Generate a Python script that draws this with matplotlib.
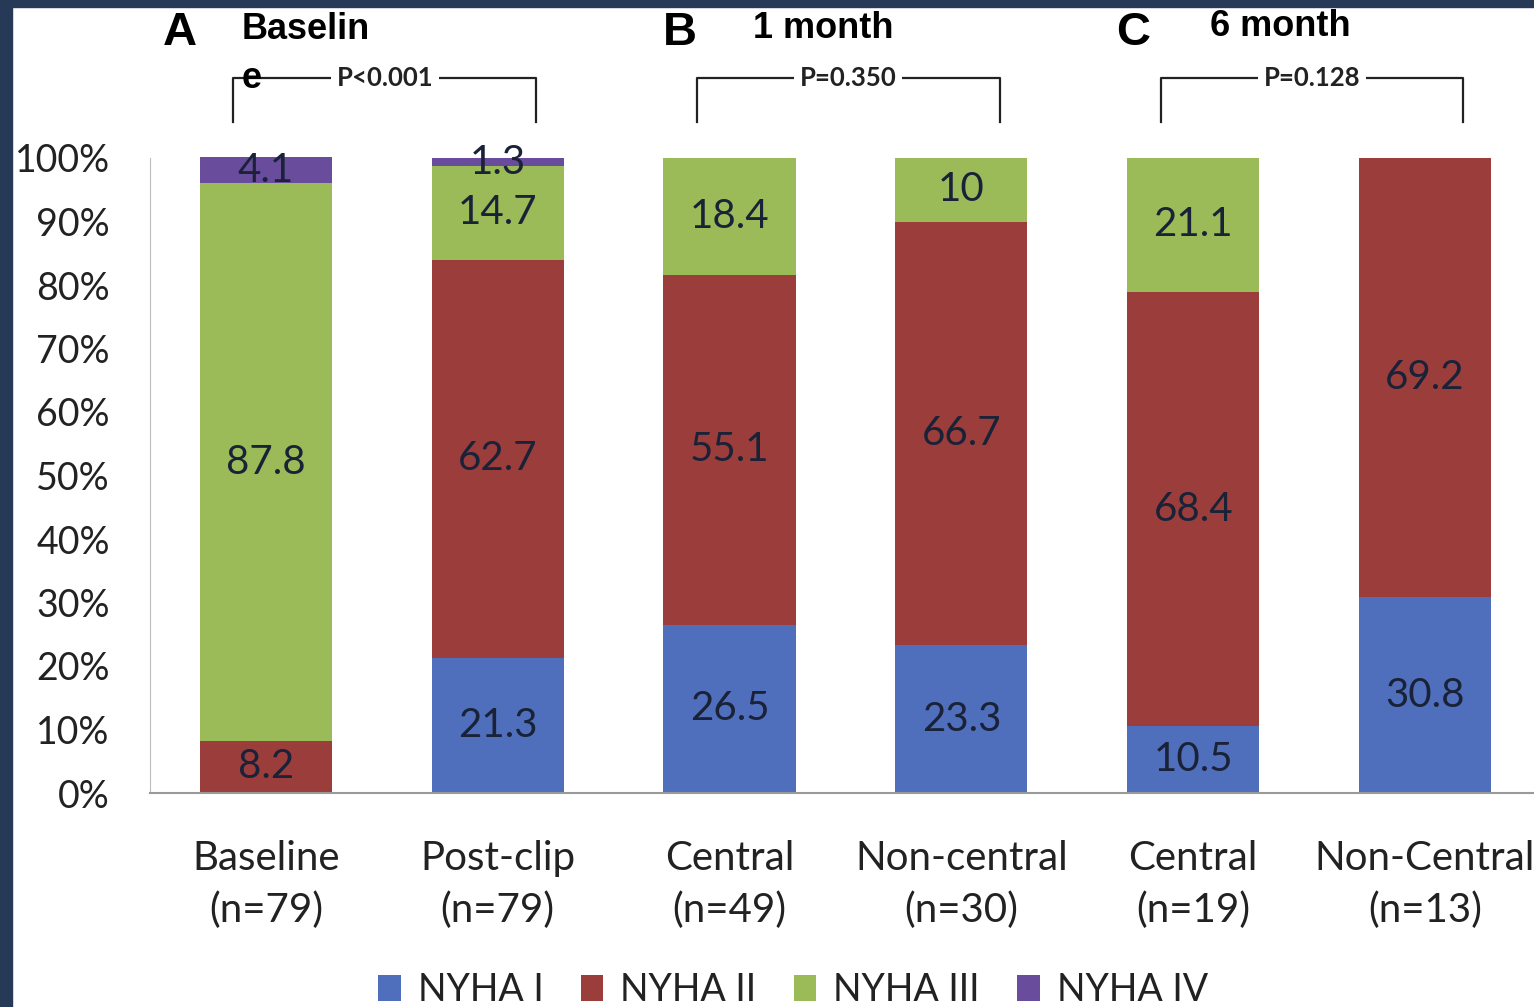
import matplotlib.pyplot as plt
import numpy as np
from matplotlib.patches import Rectangle

# NYHA class distribution (%) per group
groups = ["Baseline\n(n=79)", "Post-clip\n(n=79)", "Central\n(n=49)",
          "Non-central\n(n=30)", "Central\n(n=19)", "Non-Central\n(n=13)"]
nyha_1 = [0, 21.3, 26.5, 23.3, 10.5, 30.8]
nyha_2 = [8.2, 62.7, 55.1, 66.7, 68.4, 69.2]
nyha_3 = [87.8, 14.7, 18.4, 10, 21.1, 0]
nyha_4 = [4.1, 1.3, 0, 0, 0, 0]
classes = ["NYHA I", "NYHA II", "NYHA III", "NYHA IV"]
colors = ["#4f6fbd", "#9b3d3a", "#9bbb59", "#6a4c9c"]

panel_letters = ["A", "B", "C"]
panel_titles = ["Baselin\ne", "1 month", "6 month"]
p_values = ["P<0.001", "P=0.350", "P=0.128"]

W, H = 1534, 1007
plt.rcParams['font.family'] = ['Lato', 'DejaVu Sans']

fig = plt.figure(figsize=(W / 100, H / 100), dpi=100)
fig.patch.set_facecolor('white')

# dark frame along the top and left edges
fig.patches.append(Rectangle((0, 1 - 7 / H), 1, 7 / H, transform=fig.transFigure,
                             color='#263a57', zorder=0))
fig.patches.append(Rectangle((0, 0), 12 / W, 1, transform=fig.transFigure,
                             color='#263a57', zorder=0))

ax = fig.add_axes([150 / W, 1 - 793 / H, 1 - 150 / W, (793 - 158) / H])

x = np.arange(len(groups))
series = [nyha_1, nyha_2, nyha_3, nyha_4]
bottom = np.zeros(len(groups))
for vals, name, col in zip(series, classes, colors):
    vals = np.array(vals, dtype=float)
    ax.bar(x, vals, bottom=bottom, width=0.57, color=col, label=name,
           clip_on=False, zorder=2)
    for xi, b, v in zip(x, bottom, vals):
        if v > 0:
            ax.text(xi, b + v / 2, f"{v:g}", ha='center', va='center',
                    fontsize=29, color='#1a2238', zorder=3)
    bottom += vals

ax.set_xlim(-0.5, 5.47)
ax.set_ylim(0, 100)
ax.set_yticks(np.arange(0, 101, 10))
ax.set_yticklabels([f"{t}%" for t in range(0, 101, 10)], fontsize=27, color='#222222')
ax.set_xticks(x)
ax.set_xticklabels(groups, fontsize=29, color='#222222', linespacing=1.45)
ax.tick_params(length=0, pad=29, axis='y')
ax.tick_params(length=0, pad=34, axis='x')
for side in ['top', 'right']:
    ax.spines[side].set_visible(False)
ax.spines['left'].set_color('#bdbdbd')
ax.spines['bottom'].set_color('#9a9a9a')
ax.spines['bottom'].set_linewidth(1.5)

# significance brackets over each pair of bars
for k, p in enumerate(p_values):
    left = 2 * k - 0.14
    right = 2 * k + 1.165
    ax.plot([left, left, right, right], [105.7, 112.6, 112.6, 105.7],
            color='#222222', lw=1.6, clip_on=False, zorder=1)
    ax.text((left + right) / 2, 112.6, p, ha='center', va='center',
            fontsize=18.5, fontweight='bold', color='#222222',
            bbox=dict(facecolor='white', edgecolor='none', pad=4), zorder=2)

# panel letters and time-point headers
letter_px = [(180, 33), (680, 33), (1133, 33)]
title_px = [(242, 54), (753, 28), (1210, 26)]
for letter, title, (lx, ly), (tx, ty) in zip(panel_letters, panel_titles, letter_px, title_px):
    fig.text(lx / W, 1 - ly / H, letter, ha='center', va='center',
             fontsize=34, fontweight='bold', family='Liberation Sans')
    fig.text(tx / W, 1 - ty / H, title, ha='left', va='center',
             fontsize=26, fontweight='bold', family='Liberation Sans', linespacing=1.5)

fig.legend(loc='center', bbox_to_anchor=(793 / W, 1 - 990 / H), ncol=4, frameon=False,
           fontsize=27, handlelength=0.6, handleheight=0.7, handletextpad=0.45,
           columnspacing=1.0, labelcolor='#222222')

fig.savefig('out.png', dpi=100)
